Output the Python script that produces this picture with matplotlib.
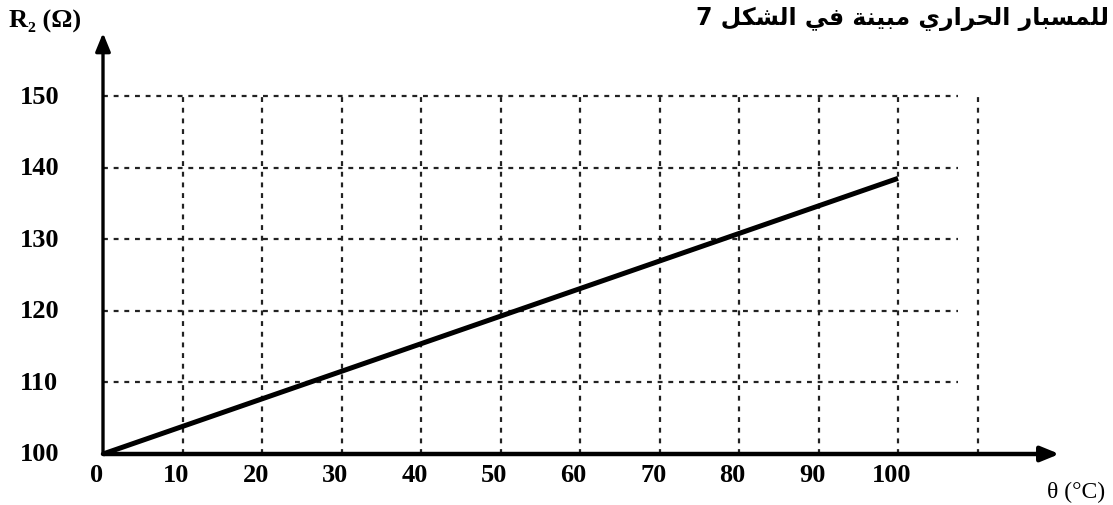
import matplotlib.pyplot as plt

# data
theta = [0, 100]
r2 = [100, 138.5]
x_ticks = [0, 10, 20, 30, 40, 50, 60, 70, 80, 90, 100]
y_ticks = [100, 110, 120, 130, 140, 150]
x_grid = [10, 20, 30, 40, 50, 60, 70, 80, 90, 100, 110]
y_grid = [110, 120, 130, 140, 150]
title = "للمسبار الحراري مبينة في الشكل 7"

# minimal arabic shaping (matplotlib has no bidi / joining)
FORMS = {
    "ا": (0xFE8D, 0xFE8E, None, None),
    "ة": (0xFE93, 0xFE94, None, None),
    "ر": (0xFEAD, 0xFEAE, None, None),
    "ب": (0xFE8F, 0xFE90, 0xFE91, 0xFE92),
    "ح": (0xFEA1, 0xFEA2, 0xFEA3, 0xFEA4),
    "س": (0xFEB1, 0xFEB2, 0xFEB3, 0xFEB4),
    "ش": (0xFEB5, 0xFEB6, 0xFEB7, 0xFEB8),
    "ف": (0xFED1, 0xFED2, 0xFED3, 0xFED4),
    "ك": (0xFED9, 0xFEDA, 0xFEDB, 0xFEDC),
    "ل": (0xFEDD, 0xFEDE, 0xFEDF, 0xFEE0),
    "م": (0xFEE1, 0xFEE2, 0xFEE3, 0xFEE4),
    "ن": (0xFEE5, 0xFEE6, 0xFEE7, 0xFEE8),
    "ي": (0xFEF1, 0xFEF2, 0xFEF3, 0xFEF4),
}


def shape_arabic(s):
    out = []
    for i, ch in enumerate(s):
        if ch not in FORMS:
            out.append(ch)
            continue
        iso, fin, ini, med = FORMS[ch]
        prev = s[i - 1] if i > 0 else ""
        nxt = s[i + 1] if i + 1 < len(s) else ""
        jp = prev in FORMS and FORMS[prev][2] is not None
        jn = ini is not None and nxt in FORMS
        if jp and jn:
            code = med
        elif jn:
            code = ini
        elif jp:
            code = fin
        else:
            code = iso
        out.append(chr(code))
    return "".join(out)[::-1]


# map the whole figure to data coords (pixel -> value)
W, H = 1113, 506
x0_px, sx = 103, 7.95      # theta=0 at px 103, px per degree
y0_px, sy = 455, 7.16      # R=100 at px 455 (from top), px per ohm

fig = plt.figure(figsize=(W / 100, H / 100), dpi=100)
ax = fig.add_axes([0, 0, 1, 1])
ax.set_xlim(-x0_px / sx, (W - x0_px) / sx)
ax.set_ylim(100 - (H - y0_px) / sy, 100 + y0_px / sy)
ax.axis("off")

grid_kw = dict(color="#222222", lw=1.6, linestyles=(0, (2.2, 2.6)))
ax.hlines(y_grid, 0, 107.5, **grid_kw)
ax.vlines(x_grid, 100, 150.3, **grid_kw)

# axes with arrows
ax.annotate("", xy=(120.3, 100), xytext=(0, 100),
            arrowprops=dict(arrowstyle="-|>,head_length=1.1,head_width=0.45",
                            color="black", lw=3.2, shrinkA=0, shrinkB=0))
ax.annotate("", xy=(0, 158.8), xytext=(0, 100),
            arrowprops=dict(arrowstyle="-|>,head_length=1.1,head_width=0.45",
                            color="black", lw=2.4, shrinkA=0, shrinkB=0))

ax.plot(theta, r2, color="black", lw=3.6, solid_capstyle="butt")

serif = ["Liberation Serif", "DejaVu Serif"]
for t in x_ticks:
    ax.text(t - 0.8, 97.1, str(t), family=serif, fontsize=19, fontweight="bold",
            ha="center", va="center")
for v in y_ticks:
    ax.text(-8.0, v, str(v), family=serif, fontsize=19, fontweight="bold",
            ha="center", va="center")

ax.text(-11.8, 160.6, "R₂ (Ω)", family=serif, fontsize=19, fontweight="bold",
        ha="left", va="center")
ax.text(126.0, 94.8, "θ (°C)", family=serif, fontsize=17,
        ha="right", va="center")
ax.text(126.6, 160.9, shape_arabic(title), family=["DejaVu Sans"],
        fontsize=17, fontweight="bold", ha="right", va="center")

fig.savefig("out.png", dpi=100)
